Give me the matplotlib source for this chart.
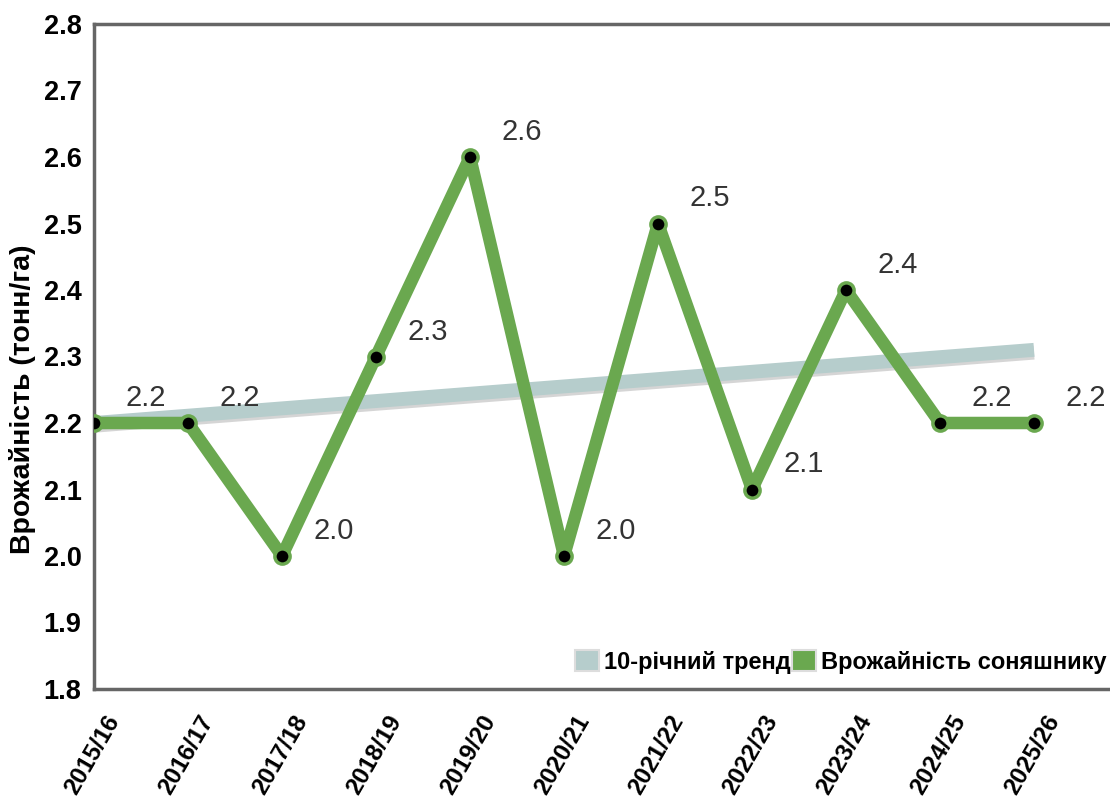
import matplotlib.pyplot as plt
import matplotlib.patheffects as pe
from matplotlib.patches import Patch
from matplotlib.transforms import offset_copy

seasons = ["2015/16", "2016/17", "2017/18", "2018/19", "2019/20", "2020/21",
           "2021/22", "2022/23", "2023/24", "2024/25", "2025/26"]
yields = [2.2, 2.2, 2.0, 2.3, 2.6, 2.0, 2.5, 2.1, 2.4, 2.2, 2.2]
trend_ends = [2.2, 2.31]

plt.rcParams['font.family'] = ['Liberation Sans', 'DejaVu Sans']

W, H = 1110, 801
fig = plt.figure(figsize=(W / 100, H / 100), dpi=100)
ax = fig.add_axes([94 / W, 1 - 689 / H, 1034 / W, 665 / H])

x = list(range(len(seasons)))

# тренд
ax.plot([0, len(seasons) - 1], trend_ends, color="#b6cdcc", lw=10, solid_capstyle="butt",
        zorder=2, path_effects=[pe.SimpleLineShadow(offset=(0, -2), shadow_color="#888888", alpha=0.35),
                                pe.Normal()])

# врожайність
ax.plot(x, yields, color="#6aa84f", lw=9, zorder=3, solid_joinstyle="round")
ax.scatter(x, yields, s=120, color="black", edgecolors="#6aa84f", linewidths=2.5, zorder=4)

for xi, yi in zip(x, yields):
    t = offset_copy(ax.transData, fig=fig, x=52, y=25, units="dots")
    ax.text(xi, yi, f"{yi:.1f}", transform=t, ha="center", va="center",
            fontsize=21, color="#333333")

ax.set_xlim(0, 11)
ax.set_ylim(1.8, 2.8)
ax.set_yticks([1.8 + 0.1 * i for i in range(11)])
ax.set_yticklabels([f"{1.8 + 0.1 * i:.1f}" for i in range(11)], fontsize=19.5, fontweight="bold")
ax.set_xticks(x)
ax.set_xticklabels([""] * len(x))
# підписи сезонів зсунуті праворуч, як в оригіналі
lab_tr = offset_copy(ax.get_xaxis_transform(), fig=fig, x=20, y=-28, units="dots")
for xi, s in zip(x, seasons):
    ax.text(xi, 0, s, transform=lab_tr, rotation=60, ha="right", va="center",
            rotation_mode="anchor", fontsize=17.5, fontweight="bold", clip_on=False)
ax.tick_params(length=0)
ax.tick_params(axis="y", pad=9)

for s in ["left", "top", "bottom"]:
    ax.spines[s].set_color("#666666")
    ax.spines[s].set_linewidth(2.5)
ax.spines["right"].set_visible(False)

ax.set_ylabel("Врожайність (тонн/га)", fontsize=20.5, fontweight="bold")
ax.yaxis.set_label_coords(-0.056, 0.436)

handles = [Patch(facecolor="#b6cdcc", edgecolor="#dddddd", lw=1.5),
           Patch(facecolor="#6aa84f", edgecolor="#dddddd", lw=1.5)]
fig.legend(handles, ["10-річний тренд", "Врожайність соняшнику"], ncol=2,
           loc="center right", bbox_to_anchor=(1 - 4 / W, 1 - 662 / H), frameon=False,
           handlelength=1.0, handleheight=1.0, handletextpad=0.2, columnspacing=0.08,
           borderaxespad=0, borderpad=0, prop={"weight": "bold", "size": 17})

fig.savefig("out.png", dpi=100)
